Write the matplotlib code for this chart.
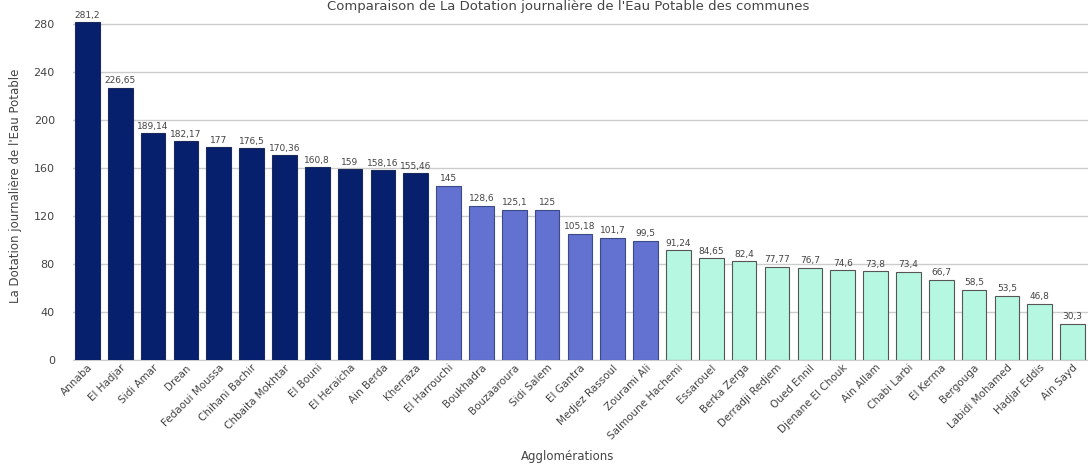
import numpy as np
import matplotlib.pyplot as plt

# Données
communes = ["Annaba", "El Hadjar", "Sidi Amar", "Drean", "Fedaoui Moussa",
            "Chihani Bachir", "Chbaita Mokhtar", "El Bouni", "El Heraicha",
            "Ain Berda", "Kherraza", "El Harrouchi", "Boukhadra", "Bouzaaroura",
            "Sidi Salem", "El Gantra", "Medjez Rassoul", "Zourami Ali",
            "Salmoune Hachemi", "Essarouel", "Berka Zerga", "Derradji Redjem",
            "Oued Ennil", "Djenane El Chouk", "Ain Allam", "Chabi Larbi",
            "El Kerma", "Bergouga", "Labidi Mohamed", "Hadjar Eddis", "Ain Sayd"]
dotation = [281.2, 226.65, 189.14, 182.17, 177, 176.5, 170.36, 160.8, 159,
            158.16, 155.46, 145, 128.6, 125.1, 125, 105.18, 101.7, 99.5,
            91.24, 84.65, 82.4, 77.77, 76.7, 74.6, 73.8, 73.4, 66.7, 58.5,
            53.5, 46.8, 30.3]
# classe de chaque commune (0: forte, 1: moyenne, 2: faible)
classe = [0] * 11 + [1] * 7 + [2] * 13

couleurs = ["#07206e", "#6372d0", "#b6f7e2"]
bords = ["#1a2a5a", "#3c4a8a", "#555555"]

fig = plt.figure(figsize=(10.88, 4.73), dpi=100)
ax = fig.add_axes([0.067, 0.239, 0.933, 0.736])

x = np.arange(len(communes))
for i in x:
    ax.bar(i, dotation[i], width=0.75, color=couleurs[classe[i]],
           edgecolor=bords[classe[i]], linewidth=0.8, zorder=3)
    txt = f"{dotation[i]:g}".replace(".", ",")
    ax.text(i, dotation[i] + 2, txt, ha="center", va="bottom",
            fontsize=6.5, color="#444444")

ax.set_xlim(-0.44, len(communes) - 0.53)
ax.set_ylim(0, 290)
ax.set_yticks(np.arange(0, 281, 40))
ax.yaxis.grid(True, color="#cccccc", linewidth=1, zorder=0)
ax.tick_params(axis="y", length=0, labelsize=8, colors="#444444", pad=13)
ax.tick_params(axis="x", length=0, labelsize=7.5, colors="#444444", pad=2)
ax.set_xticks(x)
ax.set_xticklabels(communes, rotation=45, ha="right", rotation_mode="anchor")
for s in ["top", "right", "left"]:
    ax.spines[s].set_visible(False)
ax.spines["bottom"].set_color("#cccccc")

ax.set_ylabel("La Dotation journalière de l'Eau Potable", fontsize=8.5,
              color="#444444", labelpad=8)
fig.text(0.522, 0.027, "Agglomérations", ha="center", fontsize=8.5,
         color="#444444")
fig.text(0.522, 0.999, "Comparaison de La Dotation journalière de l'Eau Potable des communes",
         ha="center", va="top", fontsize=9.5, color="#444444")

fig.savefig("out.png", dpi=100)
